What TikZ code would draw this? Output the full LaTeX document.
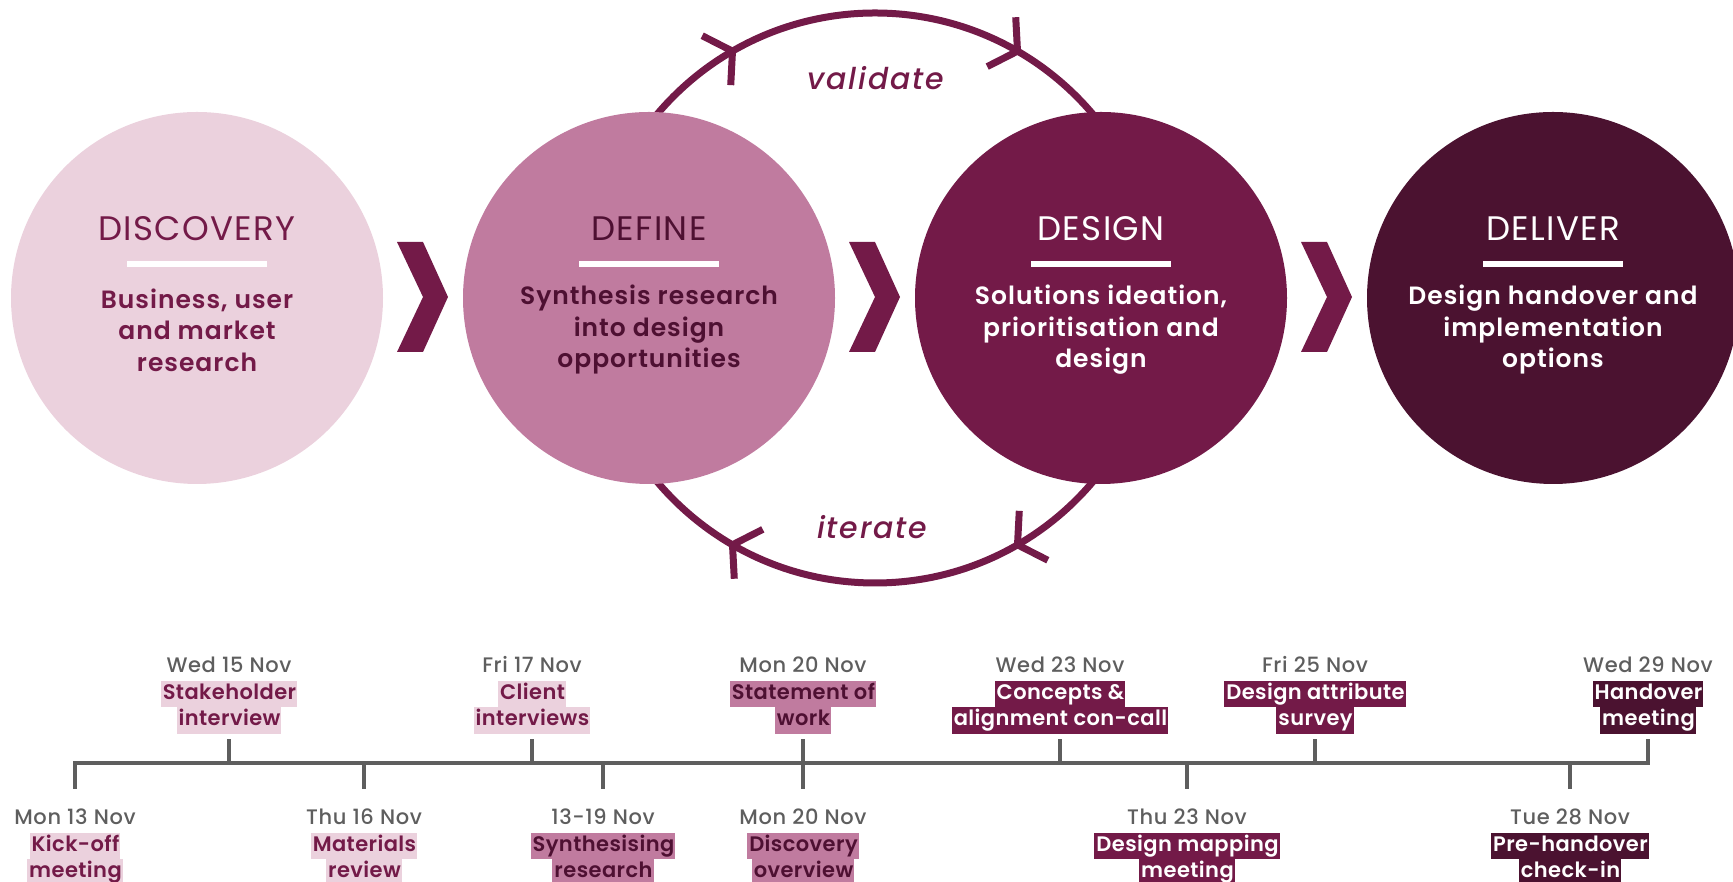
\documentclass[tikz,border=0pt]{standalone}
\usepackage{fontspec}
\setmainfont{Poppins}[BoldFont={Poppins SemiBold}]
\newfontfamily\medfont{Poppins Medium}[ItalicFont={Poppins Medium Italic}]
\usetikzlibrary{positioning,calc}

% phase colours: background / text
\definecolor{discbg}{HTML}{EBD1DD}
\definecolor{discfg}{HTML}{731A48}
\definecolor{defbg}{HTML}{C07B9F}
\definecolor{deffg}{HTML}{4E1032}
\definecolor{desbg}{HTML}{731A48}
\definecolor{desfg}{HTML}{FFFFFF}
\definecolor{delbg}{HTML}{4B1230}
\definecolor{delfg}{HTML}{FFFFFF}
\definecolor{plum}{HTML}{731A48}
\definecolor{tlgrey}{HTML}{5E5E5E}

\setlength{\fboxsep}{0pt}
% one highlighted line of an event
\newcommand{\hl}[2]{\colorbox{#1bg}{\color{#1fg}\bfseries\addfontfeatures{LetterSpace=2}\strut\hspace{2pt}#2\hspace{1pt}}}
\newcommand{\evdate}[1]{{\color{tlgrey}\medfont\addfontfeatures{LetterSpace=3}\strut#1}}

\begin{document}
\begin{tikzpicture}[x=1pt, y=1pt,
  phase/.style={circle, minimum size=372pt, inner sep=0pt},
  ptitle/.style={inner sep=0pt, font=\fontsize{34}{38}\selectfont\addfontfeatures{LetterSpace=4}},
  psub/.style={align=center, inner sep=0pt,
    font=\fontsize{25}{31.5}\selectfont\bfseries\addfontfeatures{LetterSpace=4}},
  pbar/.style={line width=6pt, white},
  loopline/.style={line width=7pt, plum},
  chev/.style={fill=plum},
  looplabel/.style={inner sep=0pt, text=plum,
    font=\fontsize{30}{34}\selectfont\medfont\itshape\addfontfeatures{LetterSpace=6}},
  evt/.style={align=center, inner sep=0pt, font=\fontsize{21}{26.5}\selectfont},
  tl/.style={line width=3.5pt, tlgrey},
]
\useasboundingbox (0,0) rectangle (1733,882);

% validate / iterate loop behind the circles
\coordinate (loopc) at (875,584);
\draw[loopline] (loopc) circle[radius=285];
\foreach \a in {60,120,240,300} {
  \draw[loopline] ($(loopc)+(\a:285)+(\a+147:34)$) -- ($(loopc)+(\a:285)$)
    -- ($(loopc)+(\a:285)+(\a+33:34)$);
}
\node[looplabel] (val) at (876,804) {validate};
\node[looplabel] (itr) at (872,355) {iterate};

% the four phases
\foreach \i/\ph/\ttl/\sub in {
    0/disc/DISCOVERY/{Business, user\\and market\\research},
    1/def/DEFINE/{Synthesis research\\into design\\opportunities},
    2/des/DESIGN/{Solutions ideation,\\prioritisation and\\design},
    3/del/DELIVER/{Design handover and\\implementation\\options}} {
  \node[phase, fill=\ph bg] (c\i) at (197+452*\i, 584) {};
  \node[ptitle, text=\ph fg] (ttl\i) at ([yshift=69pt]c\i.center) {\ttl};
  \draw[pbar] ([shift={(-70pt,34pt)}]c\i.center) -- ([shift={(70pt,34pt)}]c\i.center);
  \node[psub, text=\ph fg] (sub\i) at ([yshift=-32pt]c\i.center) {\sub};
}
\foreach \cx in {423,875,1327} {
  \fill[chev] (\cx-26,640) -- (\cx,640) -- (\cx+25,585) -- (\cx,530)
    -- (\cx-26,530) -- (\cx,585) -- cycle;
}

% timeline
\foreach \n/\x in {1/75,2/229,3/364,4/532,5/603,6/803,7/803,8/1060,9/1187,10/1315,11/1570,12/1648}
  \coordinate (t\n) at (\x,119);
\foreach \n/\ph/\date/\la/\lb in {
    2/disc/Wed 15 Nov/Stakeholder/interview,
    4/disc/Fri 17 Nov/Client/interviews,
    6/def/Mon 20 Nov/Statement of/work,
    8/des/Wed 23 Nov/Concepts \&/alignment con-call,
    10/des/Fri 25 Nov/Design attribute/survey,
    12/del/Wed 29 Nov/Handover/meeting} {
  \node[evt, above=29pt of t\n] (ev\n) {\evdate{\date}\\\hl{\ph}{\la}\\\hl{\ph}{\lb}};
}
\foreach \n/\ph/\date/\la/\lb in {
    1/disc/Mon 13 Nov/Kick-off/meeting,
    3/disc/Thu 16 Nov/Materials/review,
    5/def/13-19 Nov/Synthesising/research,
    7/def/Mon 20 Nov/Discovery/overview,
    9/des/Thu 23 Nov/Design mapping/meeting,
    11/del/Tue 28 Nov/Pre-handover/check-in} {
  \node[evt, below=43pt of t\n] (ev\n) {\evdate{\date}\\\hl{\ph}{\la}\\\hl{\ph}{\lb}};
}
\draw[tl, shorten <=17pt, shorten >=5pt] (ev1) -- (t1) -- (t12) -- (ev12);
\foreach \n in {2,4,6,8,10}
  \draw[tl, shorten >=5pt] (t\n) -- (ev\n);
\foreach \n in {3,5,7,9,11}
  \draw[tl, shorten >=17pt] (t\n) -- (ev\n);
\end{tikzpicture}
\end{document}
